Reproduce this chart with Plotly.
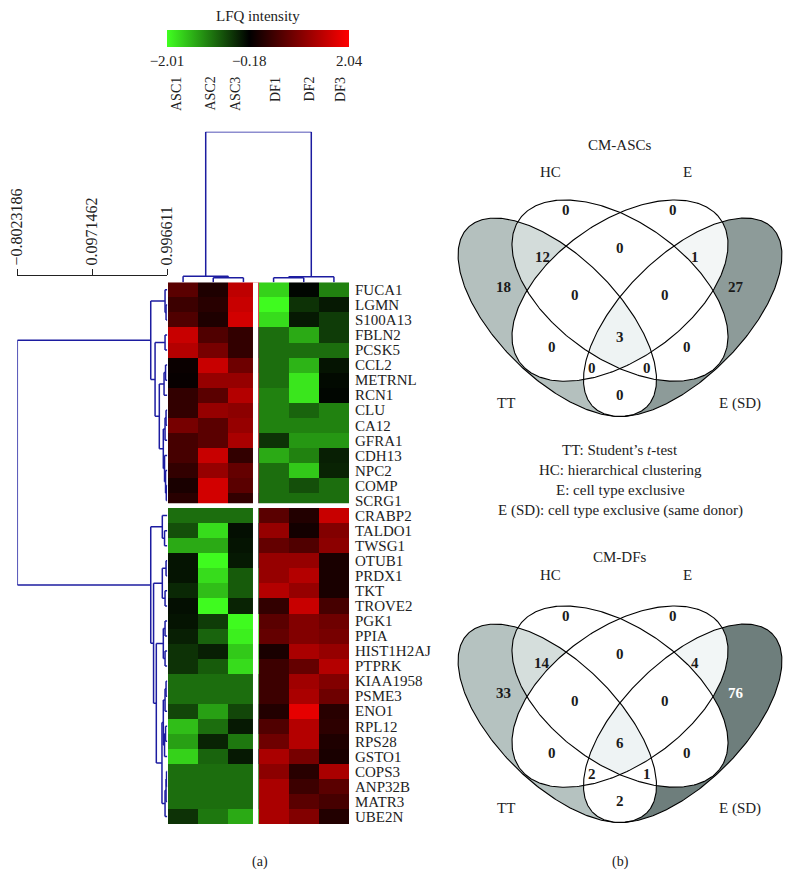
import numpy as np
import plotly.graph_objects as go

W, H = 791, 882
FONT = "Liberation Serif"

# ---------------- data ----------------
samples = ["ASC1", "ASC2", "ASC3", "DF1", "DF2", "DF3"]
genes = ["FUCA1", "LGMN", "S100A13", "FBLN2", "PCSK5", "CCL2", "METRNL", "RCN1", "CLU", "CA12",
         "GFRA1", "CDH13", "NPC2", "COMP", "SCRG1",
         "CRABP2", "TALDO1", "TWSG1", "OTUB1", "PRDX1", "TKT", "TROVE2", "PGK1", "PPIA",
         "HIST1H2AJ", "PTPRK", "KIAA1958", "PSME3", "ENO1", "RPL12", "RPS28", "GSTO1",
         "COPS3", "ANP32B", "MATR3", "UBE2N"]

asc1 = [0.60, 0.34, 0.52, 1.56, 1.39, -0.09, -0.12, 0.26, 0.26, 0.86, 0.43, 0.43, 0.26, 0.04, 0.17,
        -0.97, -0.75, -1.40, -0.32, -0.32, -0.47, -0.29, -0.32, -0.40, -0.54, -0.54, -0.97, -0.97,
        -0.68, -1.54, -1.33, -1.69, -0.97, -0.97, -0.97, -0.54]
asc2 = [0.08, 0.17, 0.08, 0.52, 0.86, 1.56, 1.13, 0.60, 1.13, 0.60, 0.60, 1.56, 1.13, 1.65, 1.65,
        -0.97, -1.76, -1.40, -1.98, -1.76, -1.54, -1.98, -0.61, -0.90, -0.40, -0.83, -0.97, -0.97,
        -1.33, -0.97, -0.43, -0.90, -0.97, -0.97, -0.97, -1.04]
asc3 = [1.47, 1.56, 1.65, 0.26, 0.26, 0.78, 1.13, 1.39, 1.04, 1.13, 1.30, 0.26, 0.69, 0.60, 0.26,
        -0.97, -0.29, -0.32, -0.36, -0.83, -0.83, -0.43, -1.98, -1.90, -1.62, -1.76, -0.97, -0.97,
        -0.68, -0.36, -1.04, -0.36, -0.97, -0.97, -0.97, -1.40]
df1 = [-1.69, -1.98, -1.76, -0.97, -0.97, -0.97, -0.97, -1.11, -1.11, -1.11, -0.54, -1.40, -0.97, -0.97, -0.97,
       0.60, 1.13, 0.69, 1.13, 1.13, 1.39, 0.26, 0.60, 0.69, 0.04, 0.34, 0.34, 0.34, 0.12, 0.52, 0.78,
       1.30, 1.04, 1.30, 1.30, 1.30]
df2 = [-0.22, -0.54, -0.36, -1.40, -0.97, -1.47, -1.83, -1.83, -0.90, -1.11, -1.26, -1.11, -1.62, -0.75, -0.97,
       0.12, -0.01, 0.52, 1.13, 1.39, 1.13, 1.56, 0.95, 0.95, 1.30, 0.69, 1.21, 1.30, 1.82, 1.39, 1.39,
       0.86, 0.17, 0.34, 0.60, 0.95]
df3 = [-1.11, -0.36, -0.61, -0.61, -0.97, -0.32, -0.25, -0.22, -1.11, -1.11, -1.26, -0.40, -0.43, -0.97, -0.97,
       1.56, 0.95, 1.04, 0.04, 0.04, 0.04, 0.43, 0.78, 0.86, 1.13, 1.39, 0.95, 0.78, 0.17, 0.21, 0.08,
       0.04, 1.30, 0.60, 0.43, 0.12]

cbar_ticks = [-2.01, -0.18, 2.04]
cbar_text = ["\u22122.01", "\u22120.18", "2.04"]
dist_ticks = [-0.8023186, 0.0971462, 0.996611]
dist_text = ["\u22120.8023186", "0.0971462", "0.996611"]

# dendrograms: [merge height, left, right]
row_tree = [-0.8023186,
            [0.801, [0.973, "FUCA1", [0.985, "LGMN", "S100A13"]],
             [0.853, [0.973, "FBLN2", "PCSK5"],
              [0.904, [0.961, [0.979, "CCL2", "METRNL"], "RCN1"],
               [0.952, [0.973, [0.985, "CLU", "CA12"], "GFRA1"],
                [0.967, "CDH13", [0.979, "NPC2", [0.988, "COMP", "SCRG1"]]]]]]],
            [0.801, [0.940, "CRABP2", [0.967, "TALDO1", "TWSG1"]],
             [0.835, [0.940, [0.985, "OTUB1", "PRDX1"], [0.973, "TKT", "TROVE2"]],
              [0.868, [0.952, [0.973, "PGK1", "PPIA"], [0.973, "HIST1H2AJ", "PTPRK"]],
               [0.936, [0.952, [0.973, [0.985, "KIAA1958", "PSME3"], "ENO1"],
                        [0.967, [0.979, "RPL12", "RPS28"], "GSTO1"]],
                [0.973, [0.985, [0.991, "COPS3", "ANP32B"], "MATR3"], "UBE2N"]]]]]]
col_tree = [-0.8023186, [0.928, "ASC1", [0.946, "ASC2", "ASC3"]],
            [0.934, [0.946, "DF1", "DF2"], "DF3"]]

# Venn counts (regions in the same order for both diagrams)
venn_regions = ["HC", "E", "TT&HC", "HC&E", "E&ESD", "TT", "TT&HC&E", "HC&E&ESD", "ESD",
                "ALL", "TT&E", "HC&ESD", "TT&E&ESD", "TT&HC&ESD", "TT&ESD"]
cm_ascs = [0, 0, 12, 0, 1, 18, 0, 0, 27, 3, 0, 0, 0, 0, 0]
cm_dfs = [0, 0, 14, 0, 4, 33, 0, 0, 76, 6, 0, 0, 2, 1, 2]
set_names = ["TT", "HC", "E", "E (SD)"]
legend_lines = ["TT: Student\u2019s <i>t</i>-test", "HC: hierarchical clustering",
                "E: cell type exclusive", "E (SD): cell type exclusive (same donor)"]

# ---------------- helpers ----------------
def py(p):
    return 1 - p / H

def px(p):
    return p / W

def walk(node, leaf_pos, xs, ys, horizontal):
    if isinstance(node, str):
        return leaf_pos[node], 1.0
    h, l, r = node
    p1, h1 = walk(l, leaf_pos, xs, ys, horizontal)
    p2, h2 = walk(r, leaf_pos, xs, ys, horizontal)
    segs = [((h1, p1), (h, p1)), ((h2, p2), (h, p2)), ((h, p1), (h, p2))]
    for (a0, b0), (a1, b1) in segs:
        if horizontal:
            xs += [a0, a1, None]; ys += [b0, b1, None]
        else:
            xs += [b0, b1, None]; ys += [a0, a1, None]
    return (p1 + p2) / 2, h

fig = go.Figure()

# heatmap
z = np.array([asc1, asc2, asc3, df1, df2, df3]).T
fig.add_trace(go.Heatmap(z=z, x=list(range(6)), y=list(range(len(genes))), coloraxis="coloraxis",
                         xaxis="x", yaxis="y", hoverinfo="skip"))

DCOL = "#1c1ca0"
rxs, rys = [], []
walk(row_tree, {g: i for i, g in enumerate(genes)}, rxs, rys, True)
fig.add_trace(go.Scatter(x=rxs, y=rys, mode="lines", line=dict(color=DCOL, width=1.5),
                         xaxis="x2", yaxis="y", hoverinfo="skip", showlegend=False))
cxs, cys = [], []
walk(col_tree, {s: i for i, s in enumerate(samples)}, cxs, cys, False)
fig.add_trace(go.Scatter(x=cxs, y=cys, mode="lines", line=dict(color=DCOL, width=1.5),
                         xaxis="x", yaxis="y2", hoverinfo="skip", showlegend=False))

# ---------------- Venn diagrams (pixel geometry of the first diagram) ----------------
# center x, center y, semi-major, semi-minor, angle (deg, clockwise on screen)
ELL = {"TT": (557.3, 317.3, 126.6, 60.5, 45.0),
       "HC": (620.0, 290.6, None, None, None),
       "E": (620.0, 290.6, None, None, None),
       "ESD": (682.7, 317.3, 126.6, 60.5, -45.0)}
SX, SY = 379.0, 318.0

def ellipse(key, dy, n=360):
    t = np.linspace(0, 2 * np.pi, n, endpoint=False)
    if key in ("HC", "E"):
        rot = -45 if key == "HC" else 45
        a, b = 0.35, 0.2
        c, s = np.cos(np.radians(rot)), np.sin(np.radians(rot))
        u = a * np.cos(t) * c - b * np.sin(t) * s
        v = a * np.cos(t) * s + b * np.sin(t) * c
        cx, cy = ELL[key][0], ELL[key][1]
        return list(zip(cx + u * SX, cy + dy - v * SY))
    cx, cy, A, B, ang = ELL[key]
    c, s = np.cos(np.radians(ang)), np.sin(np.radians(ang))
    x = cx + A * np.cos(t) * c - B * np.sin(t) * s
    y = cy + dy + A * np.cos(t) * s + B * np.sin(t) * c
    return list(zip(x, y))

def area(poly):
    return 0.5 * sum(poly[i][0] * poly[(i + 1) % len(poly)][1] - poly[(i + 1) % len(poly)][0] * poly[i][1]
                     for i in range(len(poly)))

def clip(subject, clipper):
    sgn = 1 if area(clipper) > 0 else -1
    out = list(subject)
    n = len(clipper)
    for i in range(n):
        A, B = clipper[i], clipper[(i + 1) % n]
        inside = lambda p: sgn * ((B[0] - A[0]) * (p[1] - A[1]) - (B[1] - A[1]) * (p[0] - A[0])) >= 0
        def inter(P, Q):
            x1, y1 = P; x2, y2 = Q; x3, y3 = A; x4, y4 = B
            d = (x1 - x2) * (y3 - y4) - (y1 - y2) * (x3 - x4)
            t = ((x1 - x3) * (y3 - y4) - (y1 - y3) * (x3 - x4)) / d
            return (x1 + t * (x2 - x1), y1 + t * (y2 - y1))
        inp, out = out, []
        if not inp:
            break
        S = inp[-1]
        for E in inp:
            if inside(E):
                if not inside(S):
                    out.append(inter(S, E))
                out.append(E)
            elif inside(S):
                out.append(inter(S, E))
            S = E
    return out

def add_poly(poly, color):
    if len(poly) < 3:
        return
    xs = [p[0] for p in poly] + [poly[0][0]]
    ys = [p[1] for p in poly] + [poly[0][1]]
    fig.add_trace(go.Scatter(x=xs, y=ys, mode="lines", fill="toself", fillcolor=color,
                             line=dict(width=0, color=color), xaxis="x3", yaxis="y3",
                             hoverinfo="skip", showlegend=False))

def inter_all(keys, dy):
    poly = ellipse(keys[0], dy)
    for k in keys[1:]:
        poly = clip(poly, ellipse(k, dy))
    return poly

label_xy = {"HC": (566, 210), "E": (673, 210), "TT&HC": (542, 257), "HC&E": (620, 248),
            "E&ESD": (695, 257), "TT": (503, 287), "TT&HC&E": (575, 295), "HC&E&ESD": (665, 295),
            "ESD": (736, 287), "ALL": (620, 337), "TT&E": (552, 347), "HC&ESD": (687, 347),
            "TT&E&ESD": (592, 368), "TT&HC&ESD": (647, 368), "TT&ESD": (620, 395)}

annotations = []

def note(x, y, text, size=15, color="#222", **kw):
    d = dict(x=px(x), y=py(y), xref="paper", yref="paper", text=text, showarrow=False,
             xanchor="center", yanchor="middle", font=dict(family=FONT, size=size, color=color))
    d.update(kw)
    annotations.append(d)

def draw_venn(counts, title, dy, ytitle, yset, ylow, colors):
    add_poly(ellipse("TT", dy), colors["TT"])
    add_poly(ellipse("ESD", dy), colors["ESD"])
    add_poly(ellipse("HC", dy), "white")
    add_poly(ellipse("E", dy), "white")
    add_poly(inter_all(["TT", "ESD"], dy), "white")
    add_poly(inter_all(["TT", "HC"], dy), colors["TT&HC"])
    add_poly(inter_all(["TT", "HC", "E"], dy), "white")
    add_poly(inter_all(["TT", "HC", "ESD"], dy), "white")
    add_poly(inter_all(["E", "ESD"], dy), colors["E&ESD"])
    add_poly(inter_all(["E", "ESD", "HC"], dy), "white")
    add_poly(inter_all(["E", "ESD", "TT"], dy), "white")
    add_poly(inter_all(["TT", "HC", "E", "ESD"], dy), colors["ALL"])
    for k in ["TT", "HC", "E", "ESD"]:
        pts = ellipse(k, dy)
        pts = pts + [pts[0]]
        fig.add_trace(go.Scatter(x=[p[0] for p in pts], y=[p[1] for p in pts], mode="lines",
                                 line=dict(color="black", width=1.1), xaxis="x3", yaxis="y3",
                                 hoverinfo="skip", showlegend=False))
    for reg, cnt in zip(venn_regions, counts):
        x, y = label_xy[reg]
        col = "white" if (reg == "ESD" and colors.get("white_esd")) else "#1a1a1a"
        note(x, y + dy, f"<b>{cnt}</b>", color=col)
    note(620, ytitle, title)
    for name, (x, y) in zip(set_names, [(506, ylow), (550, yset), (687, yset), (740, ylow)]):
        note(x, y, name)

draw_venn(cm_ascs, "CM-ASCs", 0, 145, 172, 403,
          {"TT": "#b4c0be", "ESD": "#8d9b99", "TT&HC": "#d3dcda", "E&ESD": "#f3f6f6", "ALL": "#eef3f3"})
draw_venn(cm_dfs, "CM-DFs", 406, 557, 575, 808,
          {"TT": "#b5c2c0", "ESD": "#6e7e7c", "TT&HC": "#d5dedc", "E&ESD": "#f2f6f6", "ALL": "#eef3f4",
           "white_esd": True})

for i, line in enumerate(legend_lines):
    note(620, 450 + 20 * i, line)

# column labels
label_px = [177, 210.5, 236, 275.5, 309, 340.5]
for s, xp in zip(samples, label_px):
    annotations.append(dict(x=px(xp), y=py(75), xref="paper", yref="paper", text=s, textangle=-90,
                            xanchor="center", yanchor="top", showarrow=False,
                            font=dict(family=FONT, size=14, color="#222")))
note(258, 16, "LFQ intensity")
note(260, 862, "(a)", size=14)
note(620, 862, "(b)", size=14)

# white separators between clusters
shapes = [
    dict(type="rect", xref="x", yref="y", x0=2.317, x1=2.493, y0=-0.5, y1=35.5,
         fillcolor="white", line=dict(width=0), layer="above"),
    dict(type="rect", xref="x", yref="y", x0=-0.5, x1=5.5, y0=14.18, y1=14.5,
         fillcolor="white", line=dict(width=0), layer="above"),
]

fig.update_layout(
    width=W, height=H, margin=dict(l=0, r=0, t=0, b=0, autoexpand=False),
    paper_bgcolor="white", plot_bgcolor="rgba(0,0,0,0)", showlegend=False,
    font=dict(family=FONT, color="#222"),
    coloraxis=dict(
        cmin=-2.01, cmax=2.04,
        colorscale=[[0, "rgb(64,255,32)"], [0.452, "rgb(0,0,0)"], [1, "rgb(255,0,0)"]],
        colorbar=dict(orientation="h", x=px(258), xanchor="center", y=py(30), yanchor="top",
                      len=182, lenmode="pixels", thickness=17, tickvals=cbar_ticks, ticktext=cbar_text,
                      ticks="", tickfont=dict(family=FONT, size=15, color="#222"), outlinewidth=0,
                      xpad=0, ypad=0)),
    xaxis=dict(domain=[px(168), px(349)], range=[-0.5, 5.5], visible=False, anchor="y"),
    yaxis=dict(domain=[py(824.1), py(282.3)], range=[35.5, -0.5], side="right", anchor="x",
               tickvals=list(range(len(genes))), ticktext=genes, ticks="outside", ticklen=2,
               tickcolor="rgba(0,0,0,0)", showgrid=False, zeroline=False, showline=False,
               tickfont=dict(family=FONT, size=15, color="#222")),
    xaxis2=dict(domain=[px(17.3), px(167.3)], range=[-0.8023186, 1.0], side="top", anchor="free",
                position=py(274.8), showline=True, linecolor="#222", linewidth=1, ticks="outside",
                ticklen=6, tickcolor="#222", tickvals=dist_ticks, ticktext=dist_text, tickangle=-90,
                showgrid=False, zeroline=False, tickfont=dict(family=FONT, size=16, color="#222")),
    yaxis2=dict(domain=[py(282.3), py(131.7)], range=[1.0, -0.8023186], visible=False, anchor="x"),
    xaxis3=dict(domain=[0, 1], range=[0, W], visible=False, anchor="y3"),
    yaxis3=dict(domain=[0, 1], range=[H, 0], visible=False, anchor="x3"),
    annotations=annotations, shapes=shapes,
)

fig.write_html("out.html", config={"displayModeBar": False},
               post_script="document.body.style.margin='0';document.body.style.padding='0';"
                           "document.documentElement.style.overflow='hidden';")
